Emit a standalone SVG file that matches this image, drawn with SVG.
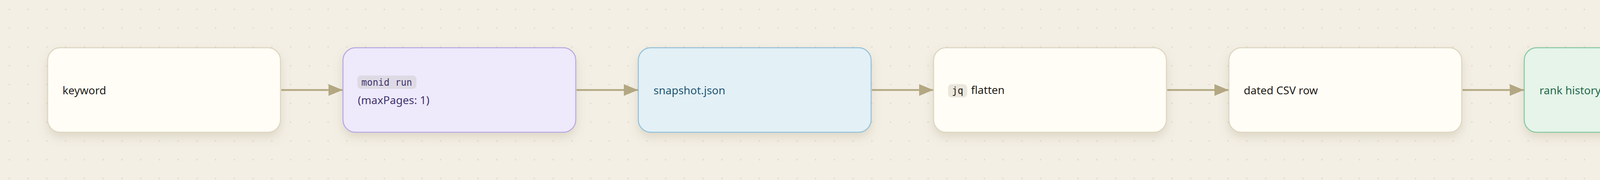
<svg xmlns="http://www.w3.org/2000/svg" width="4620" height="460" viewBox="0 0 4620 460">
<style>
.box{stroke-width:2.5}
.neutral{fill:#fffdf6;stroke:#ddd4bf}
.purple{fill:#eee9fb;stroke:#b7a6e0}
.blue{fill:#e3f0f6;stroke:#91c0d9}
.green{fill:#e6f4ea;stroke:#84c79f}
.lbl{font-family:"Noto Sans","Open Sans",sans-serif;font-size:28px}
.code{font-family:"DejaVu Sans Mono","Liberation Mono",monospace;font-size:24px}
.edge{stroke:#b3a883;stroke-width:4.5;fill:none}
</style>
<defs>
<pattern id="dots" width="48" height="48" patternUnits="userSpaceOnUse">
<circle cx="24" cy="24" r="2" fill="#e3dccb"/>
</pattern>
<filter id="shadow" x="-10%" y="-20%" width="120%" height="160%">
<feDropShadow dx="0" dy="12" stdDeviation="12" flood-color="#8a7a50" flood-opacity="0.2"/>
</filter>
<marker id="arrow" viewBox="0 0 36 30" refX="36" refY="15" markerWidth="36" markerHeight="30" markerUnits="userSpaceOnUse" orient="auto">
<path d="M0,0 L36,15 L0,30 Z" fill="#b3a883"/>
</marker>
</defs>
<rect width="4620" height="460" fill="#f3efe5"/>
<rect width="4620" height="460" fill="url(#dots)"/>
<g id="connectors">
<path class="edge" d="M720,230 H877" marker-end="url(#arrow)"/>
<path class="edge" d="M1476,230 H1633" marker-end="url(#arrow)"/>
<path class="edge" d="M2232,230 H2389" marker-end="url(#arrow)"/>
<path class="edge" d="M2988,230 H3145" marker-end="url(#arrow)"/>
<path class="edge" d="M3744,230 H3901" marker-end="url(#arrow)"/>
</g>
<g id="node-keyword">
<rect class="box neutral" x="122" y="122" width="596" height="216" rx="32" filter="url(#shadow)"/>
<text class="lbl" x="160" y="241" fill="#1f1d18">keyword</text>
</g>
<g id="node-monid-run">
<rect class="box purple" x="878" y="122" width="596" height="216" rx="32" filter="url(#shadow)"/>
<rect x="915" y="193" width="151" height="34" rx="9" fill="#dedae4"/>
<text class="code" x="925" y="219" fill="#3f3470">monid run</text>
<text class="lbl" x="916" y="266" fill="#3f3470">(maxPages: 1)</text>
</g>
<g id="node-snapshot">
<rect class="box blue" x="1634" y="122" width="596" height="216" rx="32" filter="url(#shadow)"/>
<text class="lbl" x="1673" y="241" fill="#1e5774">snapshot.json</text>
</g>
<g id="node-jq-flatten">
<rect class="box neutral" x="2390" y="122" width="596" height="216" rx="32" filter="url(#shadow)"/>
<rect x="2427" y="215" width="49" height="34" rx="9" fill="#ebe7dd"/>
<text class="code" x="2437" y="240" fill="#1f1d18">jq</text>
<text class="lbl" x="2486" y="240" fill="#1f1d18">flatten</text>
</g>
<g id="node-csv-row">
<rect class="box neutral" x="3146" y="122" width="596" height="216" rx="32" filter="url(#shadow)"/>
<text class="lbl" x="3184" y="241" fill="#1f1d18">dated CSV row</text>
</g>
<g id="node-rank-history">
<rect class="box green" x="3902" y="122" width="596" height="216" rx="32" filter="url(#shadow)"/>
<text class="lbl" x="3941" y="241" fill="#23694a">rank history</text>
</g>
</svg>
